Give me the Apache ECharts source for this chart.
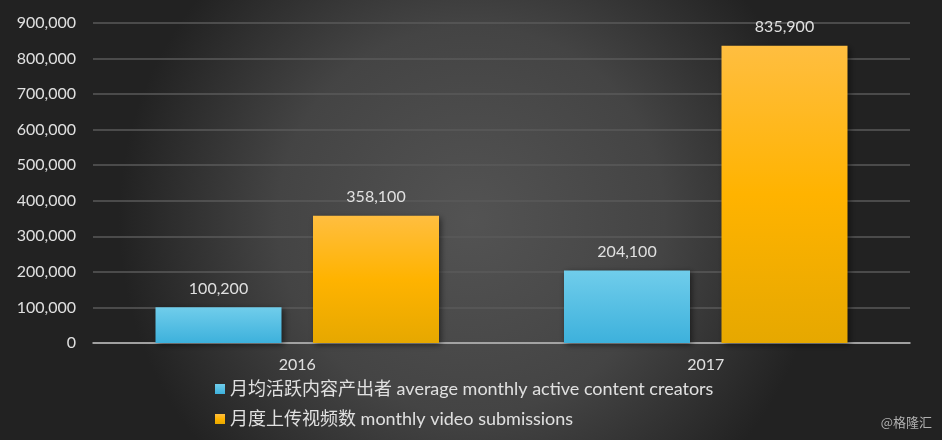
<!DOCTYPE html>
<html><head><meta charset="utf-8">
<script src="https://cdn.jsdelivr.net/npm/echarts@6/dist/echarts.min.js"></script>
<style>html,body{margin:0;padding:0;background:#333}#c{width:942px;height:440px}</style>
</head><body><div id="c"></div>
<script>
const categories = ['2016', '2017'];
const creators = [100200, 204100];
const submissions = [358100, 835900];
const seriesNames = ['月均活跃内容产出者 average monthly active content creators', '月度上传视频数 monthly video submissions'];
const yTicks = { min: 0, max: 900000, interval: 100000 };

const font = 'Lato, "Noto Sans CJK SC", sans-serif';
const chart = echarts.init(document.getElementById('c'));
const fmt = v => v.toLocaleString('en-US');
chart.setOption({
  backgroundColor: {
    type: 'radial', x: 0.5, y: 0.5, r: 0.8,
    colorStops: [{offset: 0, color: '#535353'}, {offset: 0.55, color: '#444444'}, {offset: 1, color: '#222222'}]
  },
  animation: false,
  grid: { left: 93, right: 32, top: 23, bottom: 97 },
  xAxis: {
    type: 'category', data: categories,
    axisLine: { lineStyle: { color: '#bdbdbd', width: 1.5 } },
    axisTick: { show: false },
    axisLabel: { color: '#e0e0e0', fontSize: 16, fontFamily: font, margin: 14 }
  },
  yAxis: {
    type: 'value', min: yTicks.min, max: yTicks.max, interval: yTicks.interval,
    axisLine: { show: false }, axisTick: { show: false },
    splitLine: { lineStyle: { color: '#5a5a5a', width: 1.5 } },
    axisLabel: { color: '#e0e0e0', fontSize: 16, fontFamily: font, margin: 17, formatter: fmt }
  },
  legend: {
    orient: 'vertical', left: 210, top: 375, itemGap: 12,
    itemWidth: 10, itemHeight: 10, icon: 'rect',
    textStyle: { color: '#e0e0e0', fontSize: 18, fontFamily: font },
    data: seriesNames
  },
  graphic: [{
    type: 'text', right: 10, top: 416,
    style: { text: '@格隆汇', fill: '#b0b0b0', font: '13px "Noto Sans CJK SC", sans-serif' }
  }],
  series: [
    {
      name: seriesNames[0], type: 'bar', data: creators, barWidth: 126, barGap: '25%',
      itemStyle: {
        color: { type: 'linear', x: 0, y: 0, x2: 0, y2: 1, colorStops: [{offset: 0, color: '#70cdeb'}, {offset: 1, color: '#3db1dc'}] },
        shadowColor: 'rgba(0,0,0,0.5)', shadowBlur: 6, shadowOffsetX: 2, shadowOffsetY: 2
      },
      label: { show: true, position: 'top', distance: 11, color: '#e0e0e0', fontSize: 16, fontFamily: font, formatter: p => fmt(p.value) }
    },
    {
      name: seriesNames[1], type: 'bar', data: submissions, barWidth: 126,
      itemStyle: {
        color: { type: 'linear', x: 0, y: 0, x2: 0, y2: 1, colorStops: [{offset: 0, color: '#ffbe40'}, {offset: 0.5, color: '#ffb300'}, {offset: 1, color: '#e6a800'}] },
        shadowColor: 'rgba(0,0,0,0.5)', shadowBlur: 6, shadowOffsetX: 2, shadowOffsetY: 2
      },
      label: { show: true, position: 'top', distance: 11, color: '#e0e0e0', fontSize: 16, fontFamily: font, formatter: p => fmt(p.value) }
    }
  ]
});
</script></body></html>
